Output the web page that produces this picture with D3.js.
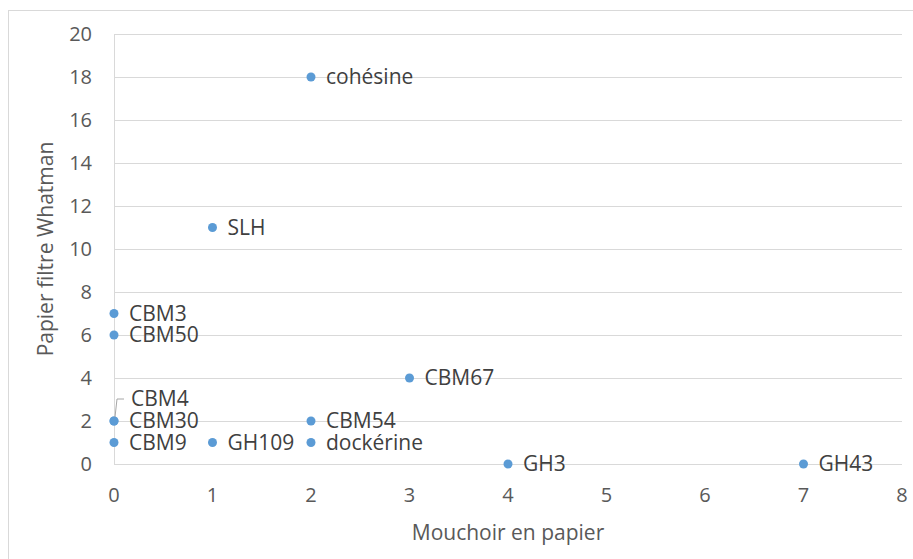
<!DOCTYPE html>
<html><head><meta charset="utf-8">
<script src="https://cdn.jsdelivr.net/npm/d3@7"></script>
<style>body{margin:0;background:#fff;} text{font-family:"Open Sans",Calibri,sans-serif;}</style>
</head><body>
<svg id="c" width="913" height="559"></svg>
<script>
const labels = ["cohésine","SLH","CBM3","CBM50","CBM67","CBM4","CBM30","CBM54","CBM9","GH109","dockérine","GH3","GH43"];
const xValues = [2,1,0,0,3,0,0,2,0,1,2,4,7];
const yValues = [18,11,7,6,4,2,2,2,1,1,1,0,0];
const xTicks = [0,1,2,3,4,5,6,7,8];
const yTicks = [0,2,4,6,8,10,12,14,16,18,20];

const svg = d3.select("#c");
const m = {l:114, r:902, t:34, b:464};
const x = d3.scaleLinear().domain([0,8]).range([m.l,m.r]);
const y = d3.scaleLinear().domain([0,20]).range([m.b,m.t]);
const txt = "#595959";

svg.append("rect").attr("x",8.5).attr("y",10.5).attr("width",912).attr("height",560)
  .attr("fill","#fff").attr("stroke","#d9d9d9");

svg.append("g").selectAll("line").data(yTicks).join("line")
  .attr("x1",m.l).attr("x2",m.r).attr("y1",d=>Math.round(y(d))+0.5).attr("y2",d=>Math.round(y(d))+0.5)
  .attr("stroke","#d9d9d9").attr("stroke-width",1);
svg.append("line").attr("x1",m.l+0.5).attr("x2",m.l+0.5).attr("y1",m.t).attr("y2",m.b)
  .attr("stroke","#d9d9d9");

const fs = 20;
svg.append("g").selectAll("text").data(yTicks).join("text")
  .attr("x",92).attr("y",d=>y(d)).attr("dy","0.35em").attr("text-anchor","end")
  .attr("fill",txt).attr("font-size",fs).text(d=>d);
svg.append("g").selectAll("text").data(xTicks).join("text")
  .attr("x",d=>x(d)).attr("y",502).attr("text-anchor","middle")
  .attr("fill",txt).attr("font-size",fs).text(d=>d);

svg.append("text").attr("x",(m.l+m.r)/2).attr("y",540).attr("text-anchor","middle")
  .attr("fill",txt).attr("font-size",21).text("Mouchoir en papier");
svg.append("text").attr("transform",`translate(53,${(m.t+m.b)/2}) rotate(-90)`).attr("text-anchor","middle")
  .attr("fill",txt).attr("font-size",21).text("Papier filtre Whatman");

const pts = labels.map((l,i)=>({l, x:xValues[i], y:yValues[i]}));
svg.append("g").selectAll("circle").data(pts).join("circle")
  .attr("cx",d=>x(d.x)).attr("cy",d=>y(d.y)).attr("r",4.5).attr("fill","#5b9bd5");

// leader line for CBM4
const p4 = pts.find(d=>d.l==="CBM4");
svg.append("path").attr("d",`M${x(p4.x)+1},${y(p4.y)-4} L${x(p4.x)+3},${y(p4.y)-22} L${x(p4.x)+10},${y(p4.y)-22}`)
  .attr("fill","none").attr("stroke","#a6a6a6").attr("stroke-width",1);

svg.append("g").selectAll("text").data(pts).join("text")
  .attr("x",d=>x(d.x)+ (d.l==="CBM4"?17:15))
  .attr("y",d=>y(d.y) + (d.l==="CBM4"?-22:0)).attr("dy","0.35em")
  .attr("fill","#404040").attr("font-size",21).text(d=>d.l);
</script>
</body></html>
